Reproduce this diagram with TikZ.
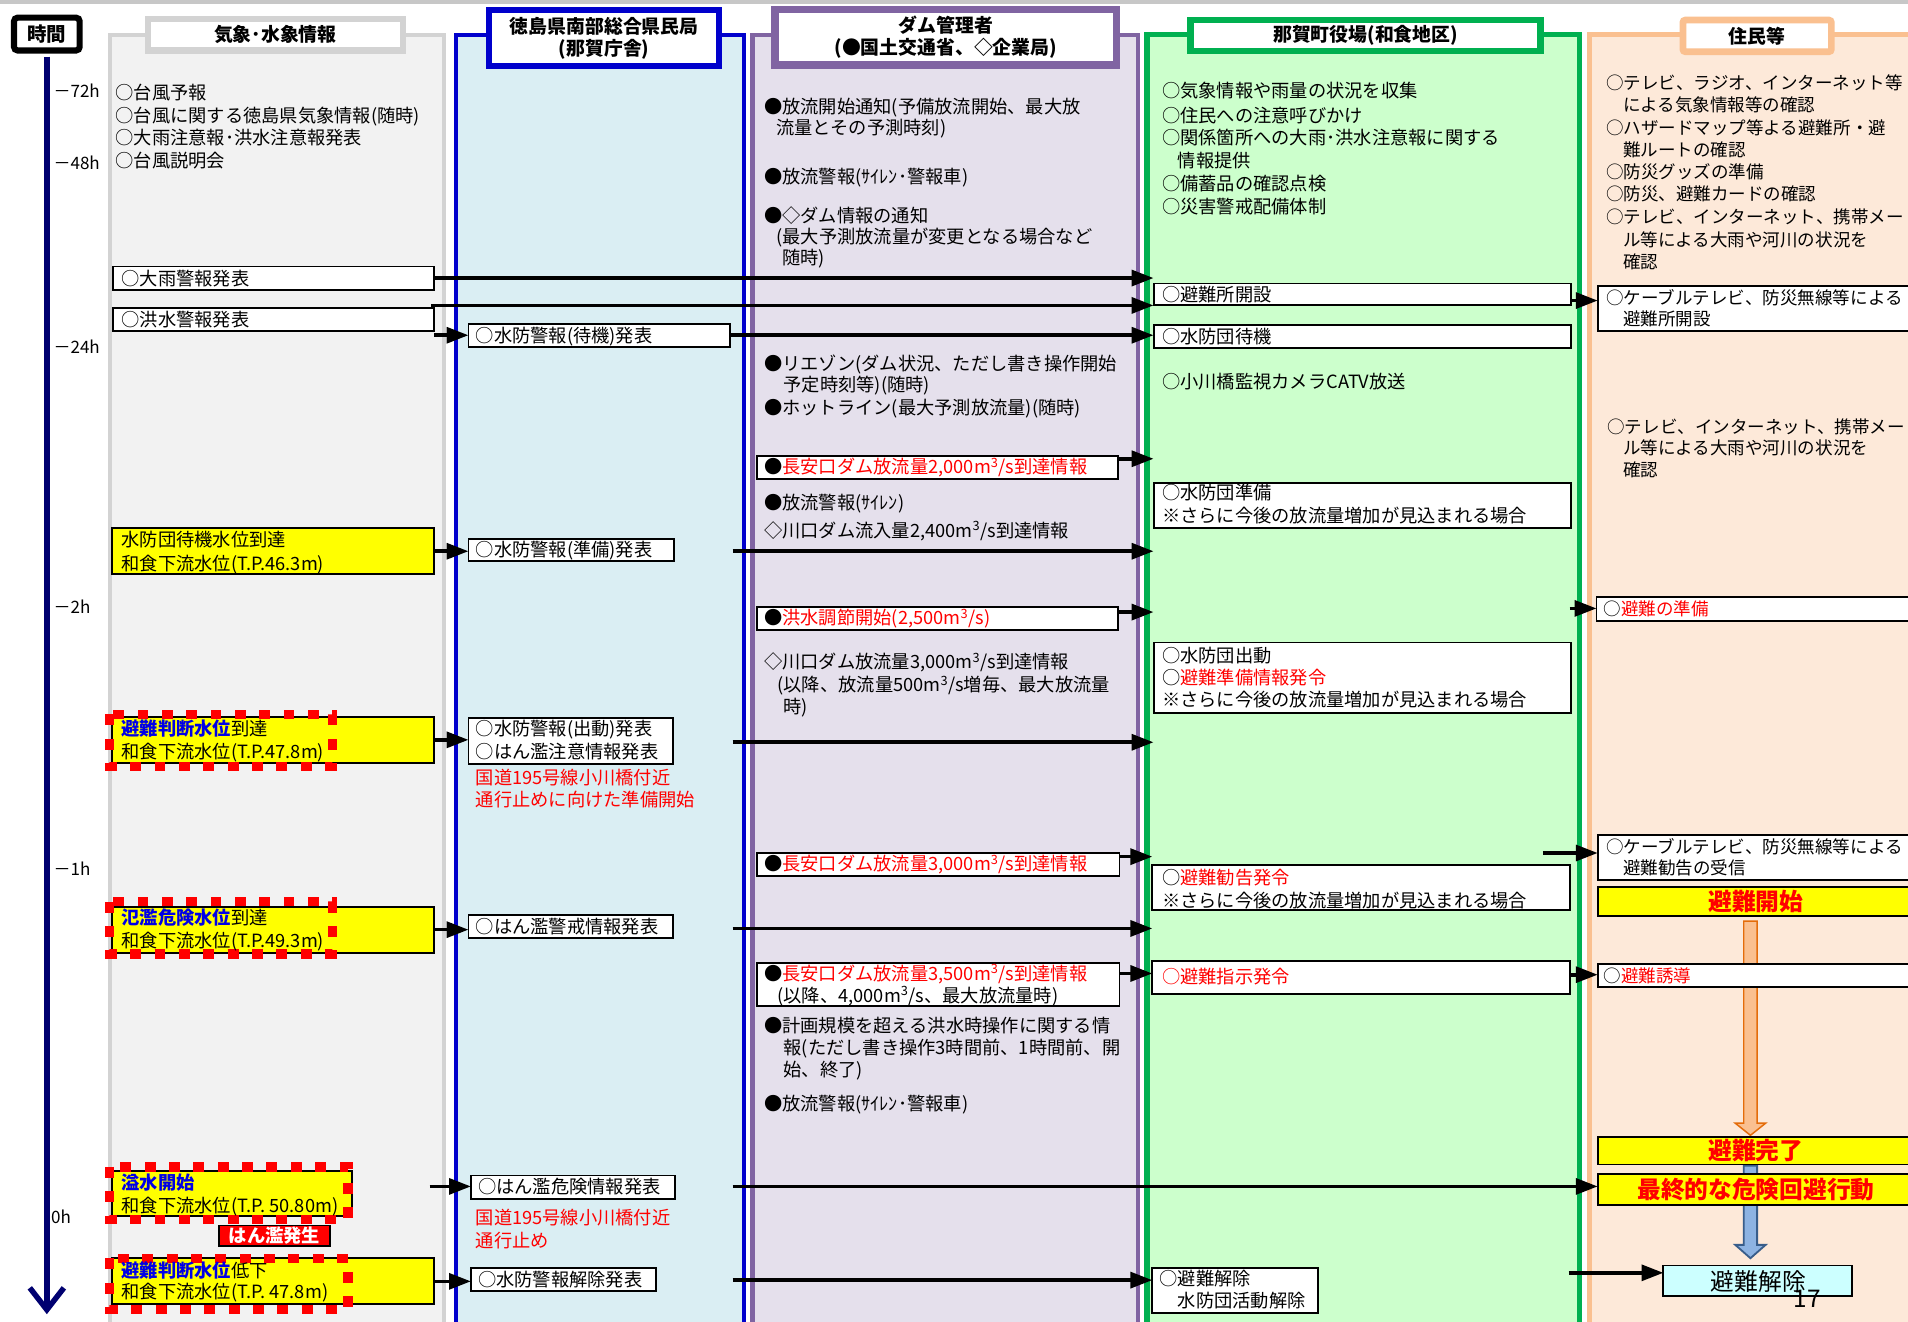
\documentclass[tikz,border=0pt]{standalone}
\usepackage{fontspec}
\setmainfont{Noto Sans CJK JP}
\usetikzlibrary{arrows.meta,calc}
\definecolor{colgray}{HTML}{F2F2F2}
\definecolor{colgrayb}{HTML}{D3D3D3}
\definecolor{colblue}{HTML}{DAEEF3}
\definecolor{colblueb}{HTML}{0000CC}
\definecolor{colpur}{HTML}{E5E0EC}
\definecolor{colpurb}{HTML}{8064A2}
\definecolor{colgrn}{HTML}{CCFFCC}
\definecolor{colgrnb}{HTML}{00B050}
\definecolor{colpch}{HTML}{FDE9D9}
\definecolor{colpchb}{HTML}{FAC090}
\definecolor{navyline}{HTML}{000070}
\definecolor{txtred}{HTML}{FF0000}
\definecolor{txtblue}{HTML}{0000E6}
\definecolor{yel}{HTML}{FFFF00}
\definecolor{cyanbox}{HTML}{CCFFFF}
\definecolor{orgfill}{HTML}{FAC090}
\definecolor{orgdraw}{HTML}{E46C0A}
\definecolor{bluefill}{HTML}{8DB3E2}
\definecolor{bluedraw}{HTML}{385D8A}
\newcommand{\mcube}{m\textsuperscript{3}}
\newcommand{\bxn}[6]{\node[#1, minimum width={(#5-#3)*1pt}, minimum height={(#6-#4)*1pt}] (#2) at (#3,#4) {};}
\tikzset{
 txt/.style={anchor=west, inner sep=0pt, outer sep=0pt, font=\fontsize{15}{18}\selectfont, text height=13pt, text depth=2pt},
 txtf/.style={txt, font=\fontsize{14.4}{18}\selectfont},
 tlab/.style={txt, font=\fontsize{14}{18}\selectfont},
 hbox/.style={fill=white, line width=5pt, inner sep=0pt, font=\fontsize{15.5}{18}\selectfont\bfseries, align=center},
 big/.style={inner sep=0pt, font=\fontsize{19.5}{22}\selectfont\bfseries, text=txtred, text height=17pt, text depth=2.5pt},
 wbox/.style={draw=black, fill=white, line width=1.6pt, inner sep=0pt, outer sep=0pt, anchor=north west},
 ybox/.style={wbox, fill=yel},
 rbox/.style={wbox, fill=red, draw=black, line width=1.4pt},
 cbox/.style={wbox, fill=cyanbox},
 arr/.style={line width=3pt, -{Triangle[length=18pt,width=13pt]}},
 reddash/.style={draw=red, line width=7.5pt, dash pattern=on 9pt off 11pt},
}
\begin{document}
\begin{tikzpicture}[x=1pt,y=-1pt]
\useasboundingbox (0,0) rectangle (1568,1086);
\fill[white] (0,0) rectangle (1568,1086);
\fill[black!22] (0,0) rectangle (1568,3.5);
% columns
\draw[colgrayb, fill=colgray, line width=3pt] (90.5,28.5) rectangle (365,1100);
\draw[colblueb, fill=colblue, line width=3pt] (374.5,28.5) rectangle (611.5,1100);
\draw[colpurb, fill=colpur, line width=3.5pt] (618.5,28.5) rectangle (935,1100);
\draw[colgrnb, fill=colgrn, line width=4.5pt] (942.5,28.5) rectangle (1298,1100);
\draw[colpchb, fill=colpch, line width=4pt] (1306,28.5) rectangle (1610,1100);
% headers
\node[hbox, draw=black, rounded corners=3pt, minimum width=54pt, minimum height=27pt, font=\fontsize{16}{18}\selectfont\bfseries] (jikan) at (38.5,28) {時間};
\node[hbox, draw=colgrayb, minimum width=209.5pt, minimum height=26pt] (h1) at (226.25,28.5) {気象･水象情報};
\node[hbox, draw=colblueb, minimum width=189pt, minimum height=45.5pt] (h2) at (496.5,31.25) {徳島県南部総合県民局\\(那賀庁舎)};
\node[hbox, draw=colpurb, line width=6pt, minimum width=280.5pt, minimum height=45.5pt] (h3) at (777.25,30.75) {ダム管理者\\(●国土交通省、◇企業局)};
\node[hbox, draw=colgrnb, line width=5.5pt, minimum width=287.5pt, minimum height=25.5pt] (h4) at (1122.25,29.25) {那賀町役場(和食地区)};
\node[hbox, draw=colpchb, line width=5.5pt, rounded corners=2pt, minimum width=122pt, minimum height=26pt] (h5) at (1444,29.5) {住民等};
% timeline
\coordinate (tend) at (38.5,1080);
\draw[navyline, line width=4.5pt, -{Straight Barb[length=18pt,width=28pt]}] ([yshift=-2.5pt]jikan.south) -- (tend);
\node[tlab] (l1) at (44,75) {－72h};
\node[tlab] (l2) at (44,134) {－48h};
\node[tlab] (l3) at (44,285) {－24h};
\node[tlab] (l4) at (44,499) {－2h};
\node[tlab] (l5) at (44,714) {－1h};
\node[tlab] (l6) at (42,1000) {0h};
% residents' flow arrows
\filldraw[fill=orgfill, draw=orgdraw, line width=1.2pt] (1433,757) -- (1444,757) -- (1444,923) -- (1451,923) -- (1438.5,933) -- (1426,923) -- (1433,923) -- cycle;
\filldraw[fill=bluefill, draw=bluedraw, line width=1.5pt] (1433,958) -- (1444,958) -- (1444,1023) -- (1451,1023) -- (1438.5,1034) -- (1426,1023) -- (1433,1023) -- cycle;
% boxes column 1
\bxn{wbox}{b1}{93}{219}{357}{238}
\bxn{wbox}{b2}{93}{253}{357}{272}
\bxn{ybox}{y1}{92}{434}{357}{472}
\bxn{ybox}{y2}{92}{589}{357}{627}
\bxn{ybox}{y3}{92}{745}{357}{783}
\bxn{ybox}{y4}{92}{962}{289}{999}
\bxn{ybox}{y5}{92}{1034}{357}{1072}
\bxn{rbox}{r1}{180}{1007}{271}{1024}
% column 2
\bxn{wbox}{c2a}{385}{266}{600}{285}
\bxn{wbox}{c2b}{385}{443}{554}{461}
\bxn{wbox}{c2c}{385}{590}{553}{628}
\bxn{wbox}{c2d}{385}{752}{553}{771}
\bxn{wbox}{c2e}{387}{966}{555}{985}
\bxn{wbox}{c2f}{387}{1042}{539}{1061}
% column 3
\bxn{wbox}{c3a}{622}{375}{919}{394}
\bxn{wbox}{c3b}{622}{499}{919}{518}
\bxn{wbox}{c3c}{622}{701}{920}{720}
\bxn{wbox}{c3d}{622}{791}{920}{827}
% column 4
\bxn{wbox}{c4a}{948}{233}{1291}{251}
\bxn{wbox}{c4b}{948}{267}{1291}{286}
\bxn{wbox}{c4c}{948}{397}{1291}{434}
\bxn{wbox}{c4d}{948}{528}{1291}{586}
\bxn{wbox}{c4e}{947}{711}{1290}{748}
\bxn{wbox}{c4f}{947}{790}{1290}{817}
\bxn{wbox}{c4g}{947}{1042}{1083}{1079}
% column 5
\bxn{wbox}{c5a}{1313}{235}{1600}{272}
\bxn{wbox}{c5b}{1312}{491}{1600}{510}
\bxn{wbox}{c5c}{1313}{686}{1600}{723}
\bxn{ybox}{c5d}{1313}{729}{1600}{753}
\bxn{wbox}{c5e}{1313}{792}{1600}{811}
\bxn{ybox}{c5f}{1313}{934}{1600}{957}
\bxn{ybox}{c5g}{1313}{965}{1600}{990}
\bxn{cbox}{c5h}{1367}{1040}{1522}{1065}
% red dashed frames
\draw[reddash] (90,587) rectangle (273,630);
\draw[reddash] (90,741) rectangle (273,784);
\draw[reddash] (90,959) rectangle (286,1002);
\draw[reddash] (90,1034) rectangle (286,1076);
% connectors
\coordinate (k1) at (354,251);
\coordinate (k3) at (602,453);
\coordinate (k5) at (1290,500);
\coordinate (k6) at (602,610);
\coordinate (k8) at (1268,701);
\coordinate (k9) at (602,763);
\coordinate (k12) at (353,975);
\coordinate (k13) at (602,975);
\coordinate (k14) at (602,1052);
\coordinate (k15) at (1289,1046);
\draw[arr] (b1.east) -- (b1.east -| c4a.west);
\draw[arr] (k1) -- (k1 -| c4a.west);
\draw[arr] (b2.east |- c2a.west) -- (c2a.west);
\draw[arr] (c2a.east) -- (c2a.east -| c4b.west);
\draw[arr] ([yshift=7.5pt]c3a.east) -- ([yshift=7.5pt]c3a.east -| c4a.west);
\draw[arr] (y1.east) -- (y1.east -| c2b.west);
\draw[arr] (k3) -- (k3 -| c4a.west);
\draw[arr] ([yshift=5.5pt]c3b.east) -- ([yshift=5.5pt]c3b.east -| c4a.west);
\draw[arr] (k5) -- (k5 -| c5b.west);
\draw[arr] (y2.east) -- (y2.east -| c2c.west);
\draw[arr] (k6) -- (k6 -| c4a.west);
\draw[arr] ([yshift=6.5pt]c3c.east) -- ([yshift=6.5pt]c3c.east -| c4e.west);
\draw[arr] (k8) -- (k8 -| c5c.west);
\draw[arr] (y3.east) -- (y3.east -| c2d.west);
\draw[arr] (k9) -- (k9 -| c4e.west);
\draw[arr] ([yshift=9pt]c3d.east) -- ([yshift=9pt]c3d.east -| c4f.west);
\draw[arr] ([yshift=2.5pt]c4f.east) -- ([yshift=2.5pt]c4f.east -| c5e.west);
\draw[arr] (k12) -- (k12 -| c2e.west);
\draw[arr] (k13) -- (k13 -| c5g.west);
\draw[arr] (y5.east) -- (y5.east -| c2f.west);
\draw[arr] (k14) -- (k14 -| c4g.west);
\draw[arr] (k15) -- (k15 -| c5h.west);
\draw[arr] ([yshift=-5pt]c4a.east) -- ([yshift=-5pt]c4a.east -| c5a.west);
% ---- texts column 1
\node[txt] (t1) at (95,76) {○台風予報};
\node[txt] (t2) at (95,95) {○台風に関する徳島県気象情報(随時)};
\node[txt] (t3) at (95,113) {○大雨注意報･洪水注意報発表};
\node[txt] (t4) at (95,132) {○台風説明会};
\node[txt] (t5) at (100,229) {○大雨警報発表};
\node[txt] (t6) at (100,263) {○洪水警報発表};
\node[txt] (t7) at (100,444) {水防団待機水位到達};
\node[txt] (t8) at (100,463) {和食下流水位(T.P.46.3m)};
\node[txt] (t9) at (100,599) {\textcolor{txtblue}{\bfseries 避難判断水位}到達};
\node[txt] (t10) at (100,618) {和食下流水位(T.P.47.8m)};
\node[txt] (t11) at (100,754) {\textcolor{txtblue}{\bfseries 氾濫危険水位}到達};
\node[txt] (t12) at (100,773) {和食下流水位(T.P.49.3m)};
\node[txt] (t13) at (100,972) {\textcolor{txtblue}{\bfseries 溢水開始}};
\node[txt] (t14) at (100,991) {和食下流水位(T.P. 50.80m)};
\node[txt] (t15) at (100,1044) {\textcolor{txtblue}{\bfseries 避難判断水位}低下};
\node[txt] (t16) at (100,1062) {和食下流水位(T.P. 47.8m)};
\node[txt, anchor=center, text=white, font=\fontsize{15}{18}\selectfont\bfseries] (t17) at (r1.center) {はん濫発生};
% ---- column 2
\node[txt] (u1) at (391,276) {○水防警報(待機)発表};
\node[txt] (u2) at (391,452) {○水防警報(準備)発表};
\node[txt] (u3) at (391,599) {○水防警報(出動)発表};
\node[txt] (u4) at (391,618) {○はん濫注意情報発表};
\node[txt, text=txtred] (u5) at (391,639) {国道195号線小川橋付近};
\node[txt, text=txtred] (u6) at (391,657) {通行止めに向けた準備開始};
\node[txt] (u7) at (391,762) {○はん濫警戒情報発表};
\node[txt] (u8) at (393,975) {○はん濫危険情報発表};
\node[txt, text=txtred] (u9) at (391,1001) {国道195号線小川橋付近};
\node[txt, text=txtred] (u10) at (391,1020) {通行止め};
\node[txt] (u11) at (393,1052) {○水防警報解除発表};
% ---- column 3
\node[txt] (d1) at (628,88) {●放流開始通知(予備放流開始、最大放};
\node[txt] (d2) at (638,105) {流量とその予測時刻)};
\node[txt] (d3) at (628,145) {●放流警報(ｻｲﾚﾝ･警報車)};
\node[txt] (d4) at (628,177) {●◇ダム情報の通知};
\node[txt] (d5) at (638,195) {(最大予測放流量が変更となる場合など};
\node[txt] (d6) at (643,212) {随時)};
\node[txt] (d7) at (628,299) {●リエゾン(ダム状況、ただし書き操作開始};
\node[txt] (d8) at (644,316) {予定時刻等)(随時)};
\node[txt] (d9) at (628,335) {●ホットライン(最大予測放流量)(随時)};
\node[txt] (d10) at (628,384) {●\textcolor{txtred}{長安口ダム放流量2,000\mcube/s到達情報}};
\node[txt] (d11) at (628,413) {●放流警報(ｻｲﾚﾝ)};
\node[txt] (d12) at (628,436) {◇川口ダム流入量2,400\mcube/s到達情報};
\node[txt] (d13) at (628,508) {●\textcolor{txtred}{洪水調節開始(2,500\mcube/s)}};
\node[txt] (d14) at (628,544) {◇川口ダム放流量3,000\mcube/s到達情報};
\node[txt] (d15) at (639,563) {(以降、放流量500\mcube/s増毎、最大放流量};
\node[txt] (d16) at (644,581) {時)};
\node[txt] (d17) at (628,710) {●\textcolor{txtred}{長安口ダム放流量3,000\mcube/s到達情報}};
\node[txt] (d18) at (628,800) {●\textcolor{txtred}{長安口ダム放流量3,500\mcube/s到達情報}};
\node[txt] (d19) at (639,818) {(以降、4,000\mcube/s、最大放流量時)};
\node[txt] (d20) at (628,843) {●計画規模を超える洪水時操作に関する情};
\node[txt] (d21) at (644,861) {報(ただし書き操作3時間前、1時間前、開};
\node[txt] (d22) at (644,879) {始、終了)};
\node[txt] (d23) at (628,907) {●放流警報(ｻｲﾚﾝ･警報車)};
% ---- column 4
\node[txt] (g1) at (955,75) {○気象情報や雨量の状況を収集};
\node[txt] (g2) at (955,95) {○住民への注意呼びかけ};
\node[txt] (g3) at (955,113) {○関係箇所への大雨･洪水注意報に関する};
\node[txt] (g4) at (968,132) {情報提供};
\node[txt] (g5) at (955,151) {○備蓄品の確認点検};
\node[txt] (g6) at (955,170) {○災害警戒配備体制};
\node[txt] (g7) at (955,242) {○避難所開設};
\node[txt] (g8) at (955,276.5) {○水防団待機};
\node[txt] (g9) at (955,314) {○小川橋監視カメラCATV放送};
\node[txt] (g10) at (955,405) {○水防団準備};
\node[txt] (g11) at (955,424) {※さらに今後の放流量増加が見込まれる場合};
\node[txt] (g12) at (955,539) {○水防団出動};
\node[txt] (g13) at (955,557) {○\textcolor{txtred}{避難準備情報発令}};
\node[txt] (g14) at (955,575) {※さらに今後の放流量増加が見込まれる場合};
\node[txt] (g15) at (955,721) {○\textcolor{txtred}{避難勧告発令}};
\node[txt] (g16) at (955,740) {※さらに今後の放流量増加が見込まれる場合};
\node[txt, text=txtred] (g17) at (955,803) {○避難指示発令};
\node[txt] (g18) at (953,1051) {○避難解除};
\node[txt] (g19) at (968,1069) {水防団活動解除};
% ---- column 5
\node[txtf] (p1) at (1320,68) {○テレビ、ラジオ、インターネット等};
\node[txtf] (p2) at (1334,86) {による気象情報等の確認};
\node[txtf] (p3) at (1320,105) {○ハザードマップ等よる避難所・避};
\node[txtf] (p4) at (1334,123) {難ルートの確認};
\node[txtf] (p5) at (1320,141) {○防災グッズの準備};
\node[txtf] (p6) at (1320,159) {○防災、避難カードの確認};
\node[txtf] (p7) at (1320,178) {○テレビ、インターネット、携帯メー};
\node[txtf] (p8) at (1334,197) {ル等による大雨や河川の状況を};
\node[txtf] (p9) at (1334,215) {確認};
\node[txtf] (p10) at (1320,245) {○ケーブルテレビ、防災無線等による};
\node[txtf] (p11) at (1334,262) {避難所開設};
\node[txtf] (p12) at (1321,351) {○テレビ、インターネット、携帯メー};
\node[txtf] (p13) at (1334,368) {ル等による大雨や河川の状況を};
\node[txtf] (p14) at (1334,386) {確認};
\node[txtf] (p15) at (1318,500) {○\textcolor{txtred}{避難の準備}};
\node[txtf] (p16) at (1320,696) {○ケーブルテレビ、防災無線等による};
\node[txtf] (p17) at (1334,713) {避難勧告の受信};
\node[big] (p18) at (1443,741) {避難開始};
\node[txtf] (p19) at (1318,802) {○\textcolor{txtred}{避難誘導}};
\node[big] (p20) at (1443,946) {避難完了};
\node[big] (p21) at (1443,978) {最終的な危険回避行動};
\node[big, text=black, font=\fontsize{19.5}{22}\selectfont] (p22) at (1445,1053) {避難解除};
\node[inner sep=0pt, font=\fontsize{20}{22}\selectfont] (pg) at (1485,1067) {17};
\end{tikzpicture}
\end{document}
